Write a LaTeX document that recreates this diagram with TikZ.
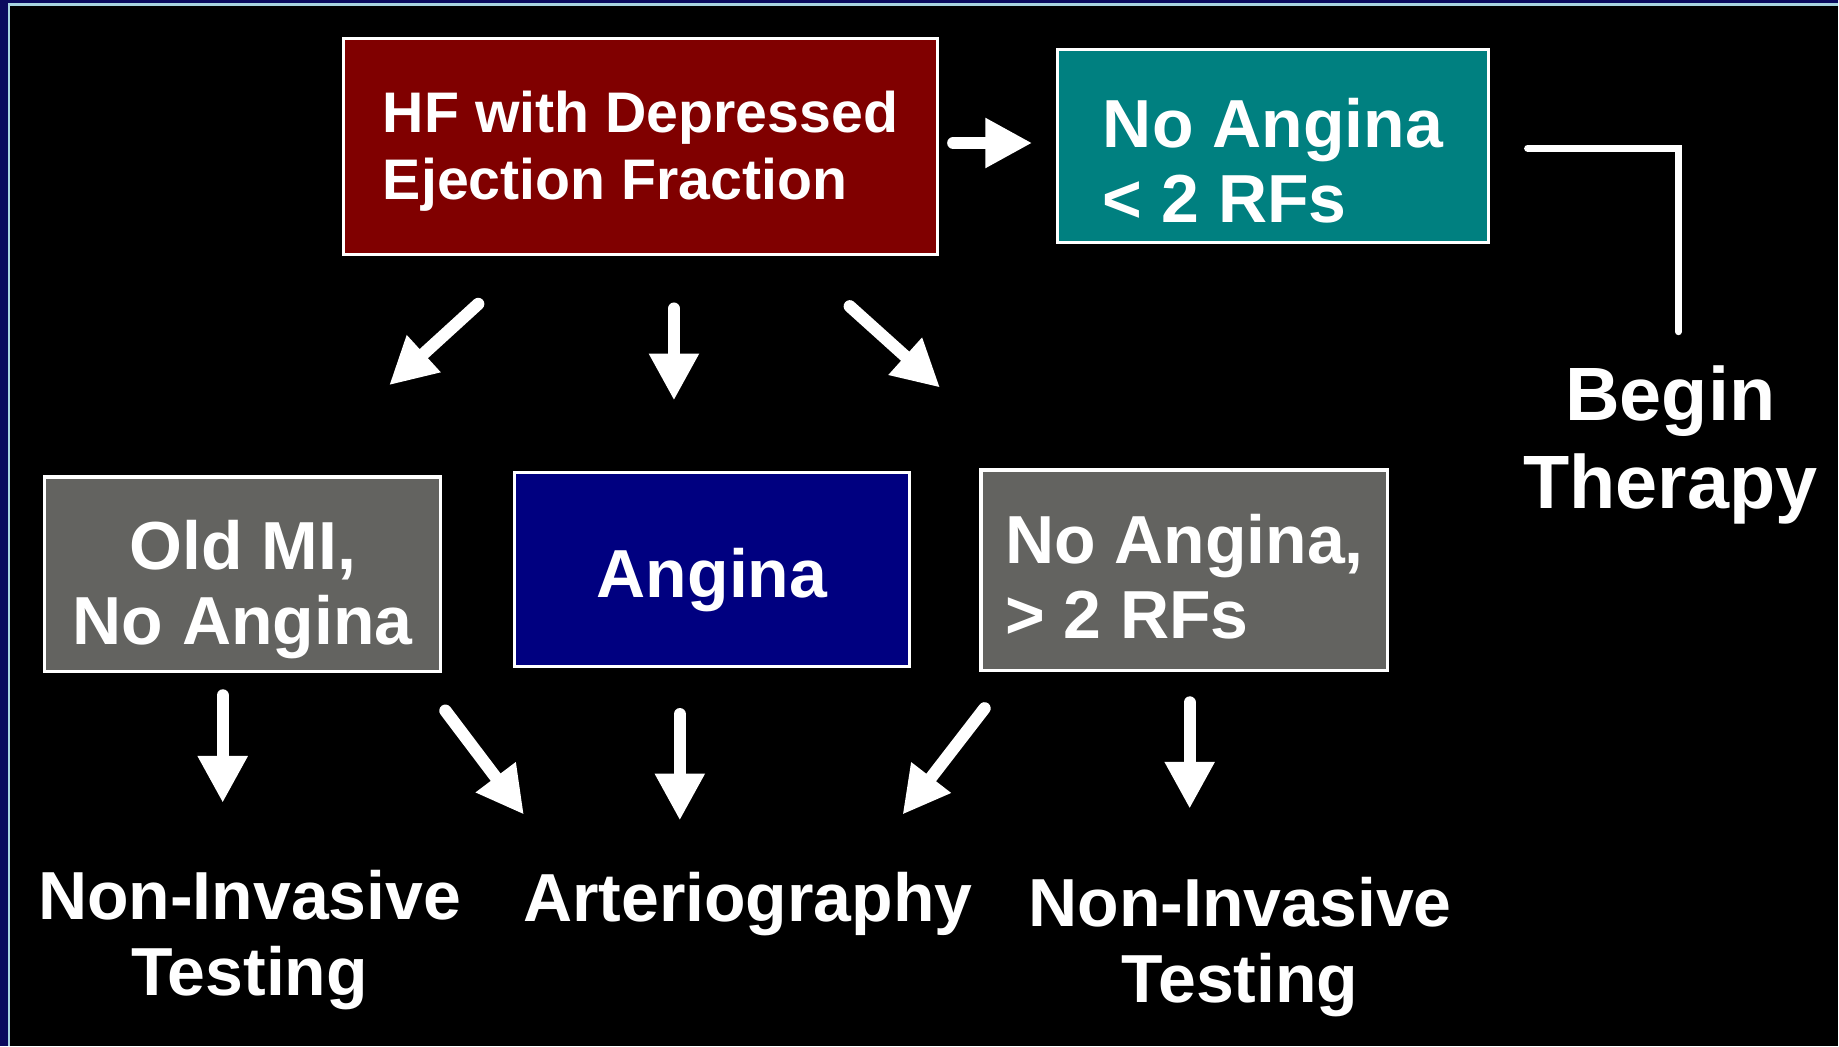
\documentclass[tikz,border=0pt]{standalone}
\usepackage{fontspec}
\setmainfont{Liberation Sans}
\usepackage{tikz}
\usetikzlibrary{calc, arrows.meta}
\definecolor{hfred}{HTML}{800000}
\definecolor{rfteal}{HTML}{008080}
\definecolor{anginablue}{HTML}{000080}
\definecolor{migray}{HTML}{636360}
\definecolor{slidenavy}{HTML}{0A0A5E}
\definecolor{slideline}{HTML}{A8D4E0}
\tikzstyle{basebox}  = [rectangle, draw=white, line width=1.6pt, text=white, inner sep=0pt]
\tikzstyle{hfbox}    = [basebox, fill=hfred, minimum width=304.2pt, minimum height=110.4pt, align=left, text height=60.2pt, font=\bfseries\fontsize{29.3pt}{34pt}\selectfont]
\tikzstyle{casebox}  = [basebox, minimum height=99.6pt, font=\bfseries\fontsize{34.8pt}{38.4pt}\selectfont]
\tikzstyle{outcome}  = [text=white, inner sep=0pt, align=center, font=\bfseries\fontsize{34.8pt}{39pt}\selectfont]
\tikzstyle{arrow}    = [white, line width=6.3pt, line cap=round, -{Triangle[width=24pt,length=24pt]}]
\tikzstyle{bracket}  = [white, line width=3.6pt, line cap=round]

\begin{document}
\begin{tikzpicture}[x=0.6pt, y=-0.6pt]
    % slide frame
    \fill[slidenavy] (0,0) rectangle (1568,892);
    \fill[black] (8.5,5) rectangle (1568,892);
    \draw[slideline, line width=1.2pt] (7.6,892) -- (7.6,3.9) -- (1568,3.9);
    \useasboundingbox (0,0) rectangle (1568,892);

    \node (hf)      [hfbox] at (546.5,125) {HF with Depressed\\Ejection Fraction};
    \node (noang)   [casebox, fill=rfteal, minimum width=220.8pt, minimum height=99pt, align=left, text height=78.8pt] at (1086,124.5) {No Angina\\< 2 RFs};
    \node (begin)   [outcome, font=\bfseries\fontsize{38.7pt}{45pt}\selectfont] at (1425,380) {Begin\\Therapy};

    \node (oldmi)   [casebox, fill=migray, minimum width=202.8pt, align=center, text height=79.4pt] at (207,490) {Old MI,\\No Angina};
    \node (angina)  [casebox, fill=anginablue, minimum width=202.2pt, text height=36.2pt] at (607.5,486) {Angina};
    \node (noangrf) [casebox, fill=migray, minimum width=208.2pt, minimum height=102.6pt, align=left, text height=69.8pt] at (1010.5,486.5) {No Angina,\\> 2 RFs};

    \node (nitl)    [outcome] at (213,802) {Non-Invasive\\Testing};
    \node (arter)   [outcome] at (638,771) {Arteriography};
    \node (nitr)    [outcome] at (1058,808) {Non-Invasive\\Testing};

    \draw [arrow] ($(hf.east)+(12,-3)$) -- ($(noang.west)+(-20,-2.5)$);
    \draw [bracket] ($(noang.east)+(32,2)$) -| ($(begin.center)+(7,-97)$);

    \draw [arrow] ($(hf.south)+(-138.5,41)$) -- ($(oldmi.north)+(125,-77)$);
    \draw [arrow] ($(hf.south)+(28.5,45)$)   -- ($(angina.north)+(-32.5,-60)$);
    \draw [arrow] ($(hf.south)+(178.5,43)$)  -- ($(noangrf.north)+(-208.5,-69)$);

    \draw [arrow] ($(oldmi.south)+(-17,19)$)    -- ($(nitl.center)+(-23,-117)$);
    \draw [arrow] ($(oldmi.south)+(173,32)$)    -- ($(arter.center)+(-191,-76)$);
    \draw [arrow] ($(angina.south)+(-27.5,39)$) -- ($(arter.center)+(-58,-71)$);
    \draw [arrow] ($(noangrf.south)+(-170.5,31)$) -- ($(arter.center)+(132,-76)$);
    \draw [arrow] ($(noangrf.south)+(4.5,26)$)  -- ($(nitr.center)+(-43,-118)$);

\end{tikzpicture}
\end{document}
